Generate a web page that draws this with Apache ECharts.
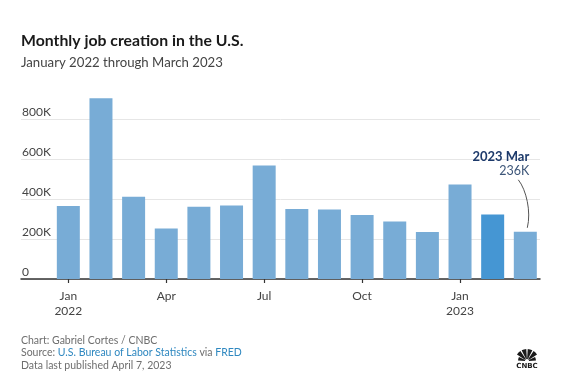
<!DOCTYPE html>
<html><head><meta charset="utf-8">
<script src="https://cdn.jsdelivr.net/npm/echarts@6/dist/echarts.min.js"></script>
<style>html,body{margin:0;padding:0;background:#fff}#c{width:584px;height:382px}</style>
</head><body><div id="c"></div>
<script>
// ---- data ----
const months = ['Jan 2022','Feb 2022','Mar 2022','Apr 2022','May 2022','Jun 2022','Jul 2022','Aug 2022','Sep 2022','Oct 2022','Nov 2022','Dec 2022','Jan 2023','Feb 2023','Mar 2023'];
const jobsK = [365, 904, 411, 253, 361, 367, 567, 350, 348, 320, 287, 235, 472, 323, 236];
const tickPositions = [0, 3, 6, 9, 12];
const tickLabels = ['Jan\n2022', 'Apr', 'Jul', 'Oct', 'Jan\n2023'];
const highlightIndex = 13;
const annotationIndex = 14;
const annotationTitle = '2023 Mar';
const annotationValue = '236K';

const FONT = 'Lato, "Open Sans", sans-serif';
const chart = echarts.init(document.getElementById('c'), null, {renderer: 'canvas'});

const barData = jobsK.map((v, i) => ({
  value: [i, v],
  itemStyle: {color: i === highlightIndex ? '#4596d3' : '#78acd6'}
}));

chart.setOption({
  animation: false,
  backgroundColor: '#fff',
  title: {
    text: 'Monthly job creation in the U.S.',
    subtext: 'January 2022 through March 2023',
    left: 21, top: 33, itemGap: 7, padding: 0,
    textStyle: {fontFamily: FONT, fontSize: 15.8, fontWeight: 'bold', color: '#1a1a1a'},
    subtextStyle: {fontFamily: FONT, fontSize: 13.2, color: '#444'}
  },
  grid: {left: 21, right: 44, top: 79, bottom: 103},
  xAxis: {
    type: 'value', min: -1.45, max: 14.45,
    splitLine: {show: false},
    axisLine: {show: true, onZero: false, lineStyle: {color: '#333', width: 1.5}},
    axisTick: {show: true, customValues: tickPositions, length: 4, lineStyle: {color: '#333', width: 1.2}},
    axisLabel: {
      customValues: tickPositions,
      formatter: v => tickLabels[tickPositions.indexOf(Math.round(v))] || '',
      fontFamily: FONT, fontSize: 12, color: '#444', margin: 10, lineHeight: 15
    }
  },
  yAxis: {
    type: 'value', min: 0, max: 1000, interval: 200,
    axisLine: {show: false}, axisTick: {show: false},
    splitLine: {show: true, showMaxLine: false, lineStyle: {color: '#e6e6e6', width: 1}},
    axisLabel: {
      inside: true, margin: 1, showMaxLabel: false,
      verticalAlign: 'bottom', align: 'left', padding: [0, 0, 1, 0],
      formatter: v => v === 0 ? '0' : v + 'K',
      fontFamily: FONT, fontSize: 12, color: '#444'
    }
  },
  series: [{
    type: 'bar', data: barData, barWidth: 23,
    itemStyle: {color: '#78acd6'}
  }]
});

// annotation anchored to the bar via the library's scales
const p = chart.convertToPixel({seriesIndex: 0}, [annotationIndex, jobsK[annotationIndex]]);
const footerY = 334;
chart.setOption({
  graphic: [
    {type: 'text', x: p[0] + 4, y: p[1] - 81, style: {text: annotationTitle, align: 'right', fontFamily: FONT, fontSize: 13, fontWeight: 'bold', fill: '#1d3a6b'}},
    {type: 'text', x: p[0] + 4, y: p[1] - 67, style: {text: annotationValue, align: 'right', fontFamily: FONT, fontSize: 12.5, fill: '#3d5679'}},
    {type: 'bezierCurve', shape: {x1: p[0] - 7, y1: p[1] - 52, cpx1: p[0] + 1, cpy1: p[1] - 42, cpx2: p[0] + 6, cpy2: p[1] - 20, x2: p[0] + 2, y2: p[1] - 4},
      style: {stroke: '#555', lineWidth: 1, fill: null}},
    {type: 'text', x: 21, y: footerY, style: {
      text: 'Chart: Gabriel Cortes / CNBC\n{k|Source:} {b|U.S. Bureau of Labor Statistics} {k|via} {b|FRED}\nData last published April 7, 2023',
      fontFamily: FONT, fontSize: 10.5, lineHeight: 12.7, fill: '#6e6e6e',
      rich: {k: {fontFamily: FONT, fontSize: 10.5, fill: '#6e6e6e'}, b: {fontFamily: FONT, fontSize: 10.5, fill: '#2f88c0'}}
    }},
    {type: 'group', x: 527, y: 361, children: [
      ...[0,1,2,3,4,5].map(k => ({type: 'sector', shape: {cx: 0, cy: 0, r0: 2, r: k === 0 || k === 5 ? 9 : 12, startAngle: Math.PI + k * Math.PI / 6 + 0.06, endAngle: Math.PI + (k + 1) * Math.PI / 6 - 0.06}, style: {fill: '#1b1b1b'}})),
      {type: 'text', x: 0, y: 2, style: {text: 'CNBC', align: 'center', fontFamily: 'DejaVu Sans', fontSize: 7, fontWeight: 'bold', fill: '#1b1b1b'}}
    ]}
  ]
});
</script></body></html>
